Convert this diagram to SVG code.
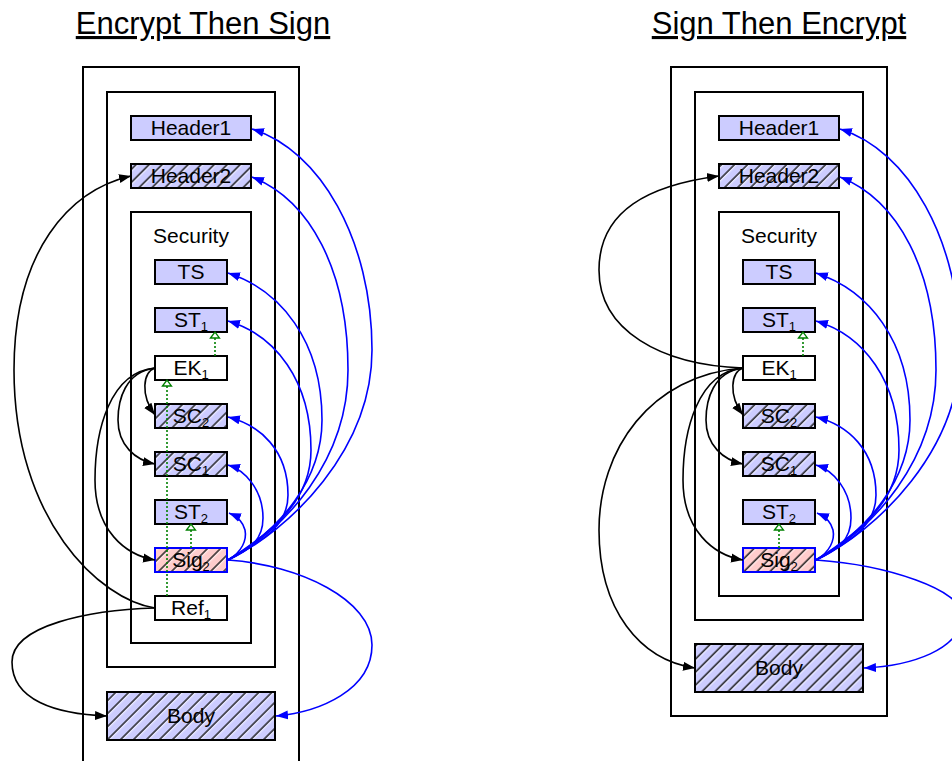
<svg xmlns="http://www.w3.org/2000/svg" width="952" height="761" viewBox="0 0 952 761">
<style>
.title{font-family:"Liberation Sans",Arial,sans-serif;font-size:31px;text-anchor:middle;text-decoration:underline;fill:#000}
.t{font-family:"Liberation Sans",Arial,sans-serif;font-size:21px;text-anchor:middle;fill:#000}
.sub{font-size:13px}
.box{fill:none;stroke:#000;stroke-width:2}
.lav{fill:#ccccff;stroke:#000;stroke-width:2}
.wht{fill:#fff;stroke:#000;stroke-width:2}
.pink{fill:#ffcccc;stroke:#0000ff;stroke-width:2}
.hat{fill:url(#hatch);stroke:none}
.bl{fill:none;stroke:#0000ff;stroke-width:1.6;marker-end:url(#ab)}
.bk{fill:none;stroke:#000;stroke-width:1.6;marker-end:url(#ak)}
.gr{fill:none;stroke:#008000;stroke-width:1.6;stroke-dasharray:2,2;marker-end:url(#ag)}
</style>
<defs>
<pattern id="hatch" width="9.2" height="10" patternUnits="userSpaceOnUse" patternTransform="rotate(45)">
<line x1="1" y1="-1" x2="1" y2="11" stroke="#1a1a1a" stroke-width="1.4"/>
<line x1="2.6" y1="-1" x2="2.6" y2="11" stroke="#ffffff" stroke-width="1" stroke-opacity="0.7"/>
</pattern>
<marker id="ab" markerWidth="14" markerHeight="12" refX="12" refY="6" orient="auto" markerUnits="userSpaceOnUse">
<path d="M0,1.5 L12,6 L0,10.5 z" fill="#0000ff"/>
</marker>
<marker id="ak" markerWidth="14" markerHeight="12" refX="12" refY="6" orient="auto" markerUnits="userSpaceOnUse">
<path d="M0,1.5 L12,6 L0,10.5 z" fill="#000"/>
</marker>
<marker id="ag" markerWidth="12" markerHeight="12" refX="7" refY="6" orient="auto" markerUnits="userSpaceOnUse">
<path d="M1,1.5 L7,6 L1,10.5 z" fill="#fff" stroke="#008000" stroke-width="1.3"/>
</marker>
</defs>

<text class="title" x="203" y="34">Encrypt Then Sign</text>
<text class="title" x="779" y="34">Sign Then Encrypt</text>

<!-- LEFT: Encrypt Then Sign -->
<g id="L-envelope"><rect class="box" x="83" y="67" width="216" height="720"/></g>
<g id="L-header"><rect class="box" x="107" y="92" width="168" height="575"/></g>
<g id="L-security"><rect class="box" x="131" y="212" width="120" height="431"/><text class="t" x="191" y="243">Security</text></g>
<g id="L-header1"><rect class="lav" x="131" y="116" width="120" height="24"/><text class="t" x="191" y="135">Header1</text></g>
<g id="L-header2"><rect class="lav" x="131" y="164" width="120" height="24"/><rect class="hat" x="132" y="165" width="118" height="22"/><text class="t" x="191" y="183">Header2</text></g>
<g id="L-ts"><rect class="lav" x="155" y="260" width="72" height="24"/><text class="t" x="191" y="279">TS</text></g>
<g id="L-st1"><rect class="lav" x="155" y="308" width="72" height="24"/><text class="t" x="191" y="327">ST<tspan class="sub" dy="4">1</tspan></text></g>
<g id="L-ek1"><rect class="wht" x="155" y="356" width="72" height="24"/><text class="t" x="191" y="375">EK<tspan class="sub" dy="4">1</tspan></text></g>
<g id="L-sc2"><rect class="lav" x="155" y="404" width="72" height="24"/><rect class="hat" x="156" y="405" width="70" height="22"/><text class="t" x="191" y="423">SC<tspan class="sub" dy="4">2</tspan></text></g>
<g id="L-sc1"><rect class="lav" x="155" y="452" width="72" height="24"/><rect class="hat" x="156" y="453" width="70" height="22"/><text class="t" x="191" y="471">SC<tspan class="sub" dy="4">1</tspan></text></g>
<g id="L-st2"><rect class="lav" x="155" y="500" width="72" height="24"/><text class="t" x="191" y="519">ST<tspan class="sub" dy="4">2</tspan></text></g>
<g id="L-sig2"><rect class="pink" x="155" y="548" width="72" height="24"/><rect class="hat" x="156" y="549" width="70" height="22"/><text class="t" x="191" y="567">Sig<tspan class="sub" dy="4">2</tspan></text></g>
<g id="L-ref1"><rect class="wht" x="155" y="596" width="72" height="24"/><text class="t" x="191" y="615">Ref<tspan class="sub" dy="4">1</tspan></text></g>
<g id="L-body"><rect class="lav" x="107" y="692" width="168" height="48"/><rect class="hat" x="108" y="693" width="166" height="46"/><text class="t" x="191" y="723">Body</text></g>

<!-- RIGHT: Sign Then Encrypt -->
<g id="R-envelope"><rect class="box" x="671" y="67" width="216" height="649"/></g>
<g id="R-header"><rect class="box" x="695" y="92" width="168" height="528"/></g>
<g id="R-security"><rect class="box" x="719" y="212" width="120" height="384"/><text class="t" x="779" y="243">Security</text></g>
<g id="R-header1"><rect class="lav" x="719" y="116" width="120" height="24"/><text class="t" x="779" y="135">Header1</text></g>
<g id="R-header2"><rect class="lav" x="719" y="164" width="120" height="24"/><rect class="hat" x="720" y="165" width="118" height="22"/><text class="t" x="779" y="183">Header2</text></g>
<g id="R-ts"><rect class="lav" x="743" y="260" width="72" height="24"/><text class="t" x="779" y="279">TS</text></g>
<g id="R-st1"><rect class="lav" x="743" y="308" width="72" height="24"/><text class="t" x="779" y="327">ST<tspan class="sub" dy="4">1</tspan></text></g>
<g id="R-ek1"><rect class="wht" x="743" y="356" width="72" height="24"/><text class="t" x="779" y="375">EK<tspan class="sub" dy="4">1</tspan></text></g>
<g id="R-sc2"><rect class="lav" x="743" y="404" width="72" height="24"/><rect class="hat" x="744" y="405" width="70" height="22"/><text class="t" x="779" y="423">SC<tspan class="sub" dy="4">2</tspan></text></g>
<g id="R-sc1"><rect class="lav" x="743" y="452" width="72" height="24"/><rect class="hat" x="744" y="453" width="70" height="22"/><text class="t" x="779" y="471">SC<tspan class="sub" dy="4">1</tspan></text></g>
<g id="R-st2"><rect class="lav" x="743" y="500" width="72" height="24"/><text class="t" x="779" y="519">ST<tspan class="sub" dy="4">2</tspan></text></g>
<g id="R-sig2"><rect class="pink" x="743" y="548" width="72" height="24"/><rect class="hat" x="744" y="549" width="70" height="22"/><text class="t" x="779" y="567">Sig<tspan class="sub" dy="4">2</tspan></text></g>
<g id="R-body"><rect class="lav" x="695" y="644" width="168" height="48"/><rect class="hat" x="696" y="645" width="166" height="46"/><text class="t" x="779" y="675">Body</text></g>

<g id="connectors">
<!-- left blue -->
<path class="bl" d="M228,560 C290,530 372,450 372,350 C372,240 320,150 252,129"/>
<path class="bl" d="M228,560 C285,530 348,460 348,370 C348,270 310,200 252,177"/>
<path class="bl" d="M228,560 C280,530 322,480 322,420 C322,340 280,290 228,273"/>
<path class="bl" d="M228,560 C275,530 311,500 311,450 C311,380 275,335 228,321"/>
<path class="bl" d="M228,560 C265,540 288,525 288,495 C288,450 260,425 228,417"/>
<path class="bl" d="M228,560 C250,550 263,540 263,518 C263,490 245,470 228,465"/>
<path class="bl" d="M228,560 C242,552 247,540 245,530 C243,522 236,516 229,513"/>
<path class="bl" d="M228,560 C300,565 372,600 372,645 C372,690 320,712 276,716"/>
<!-- left black -->
<path class="bk" d="M155,608 C100,600 14,520 14,370 C14,250 70,190 131,176"/>
<path class="bk" d="M155,608 C90,610 12,625 12,662 C12,700 55,714 107,716"/>
<path class="bk" d="M155,368 C143,372 140,395 155,415"/>
<path class="bk" d="M155,368 C125,372 118,400 118,420 C118,445 135,460 155,464"/>
<path class="bk" d="M155,368 C110,372 95,430 95,480 C95,530 125,555 155,560"/>
<!-- left green -->
<path class="gr" d="M215,356 L215,332"/>
<path class="gr" d="M167,596 L167,380"/>
<path class="gr" d="M191,548 L191,524"/>
<!-- right blue -->
<path class="bl" d="M816,560 C878,530 960,450 960,350 C960,240 908,150 840,129"/>
<path class="bl" d="M816,560 C873,530 936,460 936,370 C936,270 898,200 840,177"/>
<path class="bl" d="M816,560 C868,530 910,480 910,420 C910,340 868,290 816,273"/>
<path class="bl" d="M816,560 C863,530 899,500 899,450 C899,380 863,335 816,321"/>
<path class="bl" d="M816,560 C853,540 876,525 876,495 C876,450 848,425 816,417"/>
<path class="bl" d="M816,560 C838,550 851,540 851,518 C851,490 833,470 816,465"/>
<path class="bl" d="M816,560 C830,552 835,540 833,530 C831,522 824,516 817,513"/>
<path class="bl" d="M816,560 C888,565 962,590 962,615 C962,650 910,666 864,668"/>
<!-- right black -->
<path class="bk" d="M743,368 C660,365 599,330 599,270 C599,210 650,185 719,176"/>
<path class="bk" d="M743,368 C731,372 728,395 743,415"/>
<path class="bk" d="M743,368 C713,372 706,400 706,420 C706,445 723,460 743,464"/>
<path class="bk" d="M743,368 C698,372 683,430 683,480 C683,530 713,555 743,560"/>
<path class="bk" d="M743,368 C650,375 599,450 599,530 C599,610 640,660 695,668"/>
<!-- right green -->
<path class="gr" d="M803,356 L803,332"/>
<path class="gr" d="M779,548 L779,524"/>
</g>
</svg>
